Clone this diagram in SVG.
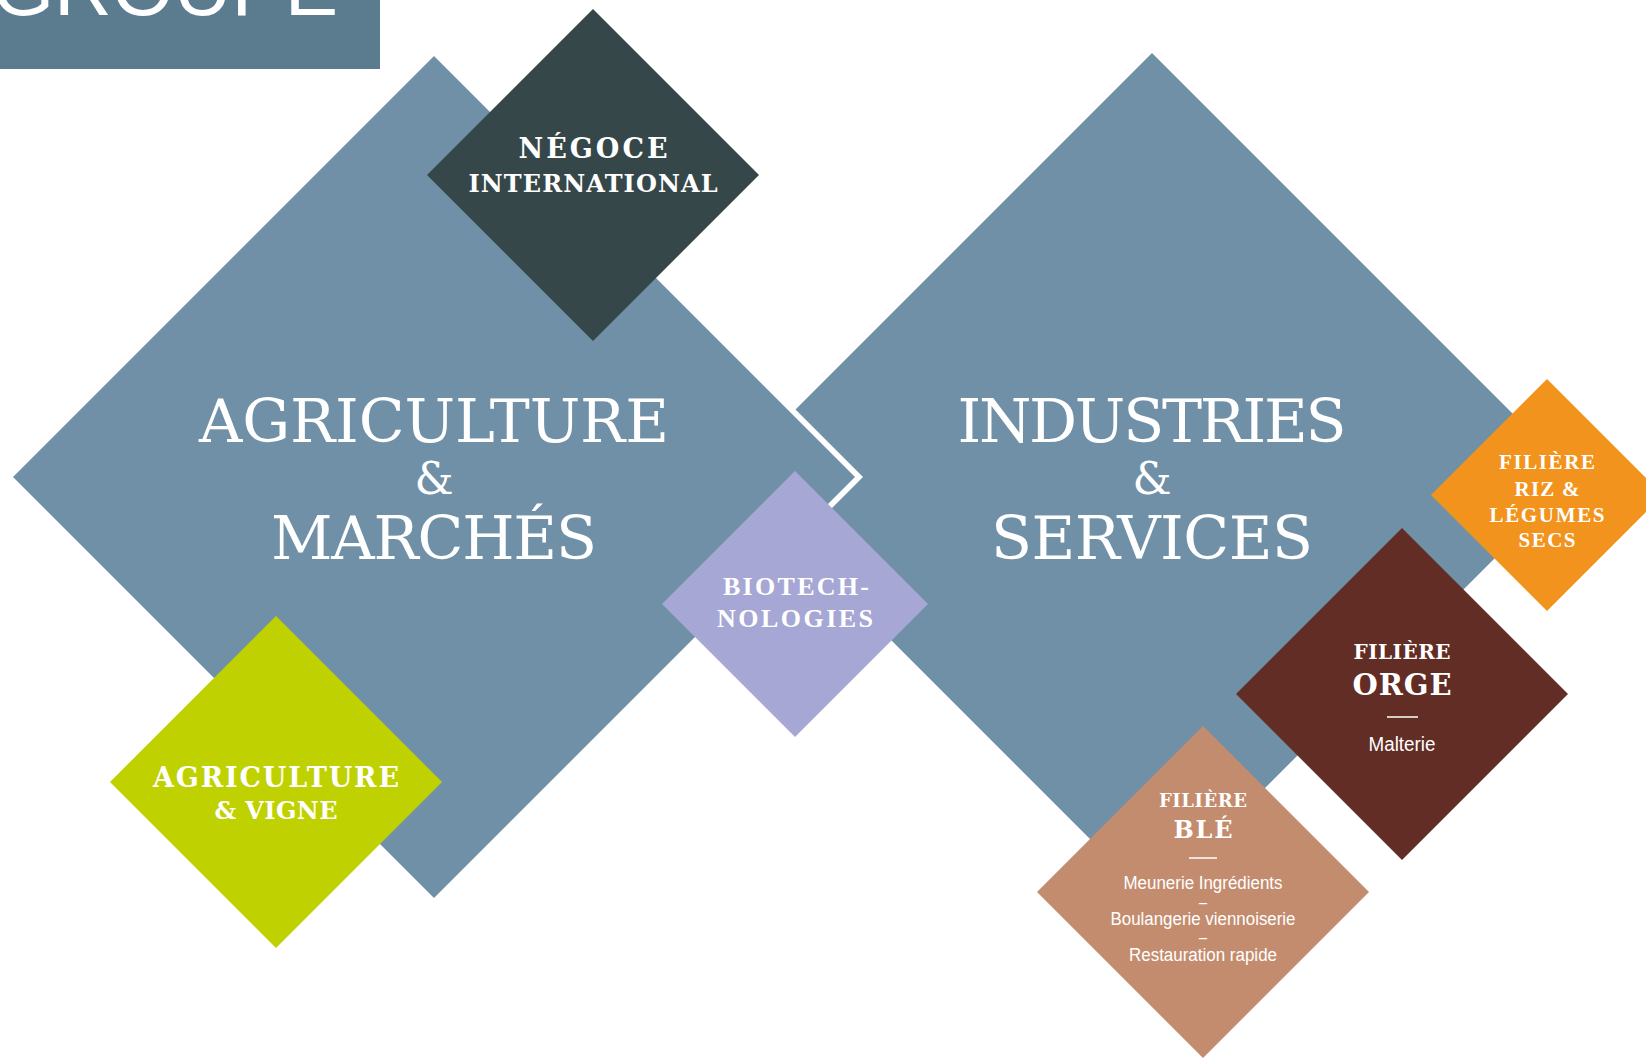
<svg xmlns="http://www.w3.org/2000/svg" width="1646" height="1058" viewBox="0 0 1646 1058">
<style>
.big{font-family:"DejaVu Serif","Liberation Serif",serif;fill:#fff;text-anchor:middle}
.slab{font-family:"DejaVu Serif","Liberation Serif",serif;font-weight:bold;fill:#fff;text-anchor:middle}
.old{font-family:"Liberation Serif","DejaVu Serif",serif;font-weight:bold;fill:#fff;text-anchor:middle}
.sans{font-family:"Liberation Sans",Arial,sans-serif;fill:#fff;text-anchor:middle}
.rule{stroke:#fff;stroke-width:1.5}
.blue{fill:#7090a7}
</style>
<rect width="1646" height="1058" fill="#fff"/>
<g id="header">
<rect x="0" y="-10" width="380" height="79" fill="#5b7b8f"/>
<text x="-8" y="15" font-family="Liberation Sans, Arial, sans-serif" font-size="80" fill="#fff" textLength="346">GROUPE</text>
</g>
<g id="industries-services">
<polygon class="blue" points="1152,53 1576,477 1152,901 728,477"/>
<text class="big" x="1152" y="442" font-size="60" textLength="389">INDUSTRIES</text>
<text class="big" x="1152" y="494" font-size="44">&amp;</text>
<text class="big" x="1152" y="559" font-size="60" textLength="322">SERVICES</text>
</g>
<g id="agriculture-marches">
<polygon fill="#fff" points="434,48 863,477 434,906 5,477"/>
<polygon class="blue" points="434,56 855,477 434,898 13,477"/>
<text class="big" x="434" y="442" font-size="60" textLength="470">AGRICULTURE</text>
<text class="big" x="434" y="494" font-size="44">&amp;</text>
<text class="big" x="434" y="559" font-size="60" textLength="326">MARCHÉS</text>
</g>
<g id="connectors"></g>
<g id="negoce-international">
<polygon fill="#364749" points="593,9 759,175 593,341 427,175"/>
<text class="slab" x="593" y="158" font-size="27" textLength="149">NÉGOCE</text>
<text class="slab" x="593" y="192" font-size="24" textLength="249">INTERNATIONAL</text>
</g>
<g id="agriculture-vigne">
<polygon fill="#bfd100" points="276,616 442,782 276,948 110,782"/>
<text class="slab" x="276" y="787" font-size="27" textLength="246">AGRICULTURE</text>
<text class="slab" x="276" y="819" font-size="24" textLength="123">&amp; VIGNE</text>
</g>
<g id="biotechnologies">
<polygon fill="#a6a7d4" points="795,471 928,604 795,737 662,604"/>
<text class="old" x="796" y="595" font-size="26" textLength="146">BIOTECH-</text>
<text class="old" x="795" y="627" font-size="26" textLength="156">NOLOGIES</text>
</g>
<g id="filiere-riz">
<polygon fill="#f2931d" points="1547,379 1663,495 1547,611 1431,495"/>
<text class="old" x="1547" y="469" font-size="21" textLength="96">FILIÈRE</text>
<text class="old" x="1547" y="496" font-size="21" textLength="65">RIZ &amp;</text>
<text class="old" x="1547" y="522" font-size="21" textLength="115">LÉGUMES</text>
<text class="old" x="1547" y="547" font-size="21" textLength="57">SECS</text>
</g>
<g id="filiere-orge">
<polygon fill="#612d25" points="1402,528 1568,694 1402,860 1236,694"/>
<text class="slab" x="1402" y="659" font-size="20" textLength="97">FILIÈRE</text>
<text class="slab" x="1402" y="695" font-size="29" textLength="99">ORGE</text>
<line class="rule" x1="1387" y1="717" x2="1418" y2="717"/>
<text class="sans" x="1402" y="751" font-size="20" textLength="67" lengthAdjust="spacingAndGlyphs">Malterie</text>
</g>
<g id="filiere-ble">
<polygon fill="#c48c6e" points="1203,726 1369,892 1203,1058 1037,892"/>
<text class="slab" x="1203" y="807" font-size="18" textLength="88">FILIÈRE</text>
<text class="slab" x="1203" y="838" font-size="24" textLength="59">BLÉ</text>
<line class="rule" x1="1189" y1="858" x2="1217" y2="858"/>
<text class="sans" x="1203" y="889" font-size="18" textLength="159" lengthAdjust="spacingAndGlyphs">Meunerie Ingrédients</text>
<text class="sans" x="1203" y="908" font-size="18" textLength="8" lengthAdjust="spacingAndGlyphs">–</text>
<text class="sans" x="1203" y="925" font-size="18" textLength="185" lengthAdjust="spacingAndGlyphs">Boulangerie viennoiserie</text>
<text class="sans" x="1203" y="943" font-size="18" textLength="8" lengthAdjust="spacingAndGlyphs">–</text>
<text class="sans" x="1203" y="961" font-size="18" textLength="148" lengthAdjust="spacingAndGlyphs">Restauration rapide</text>
</g>
</svg>
